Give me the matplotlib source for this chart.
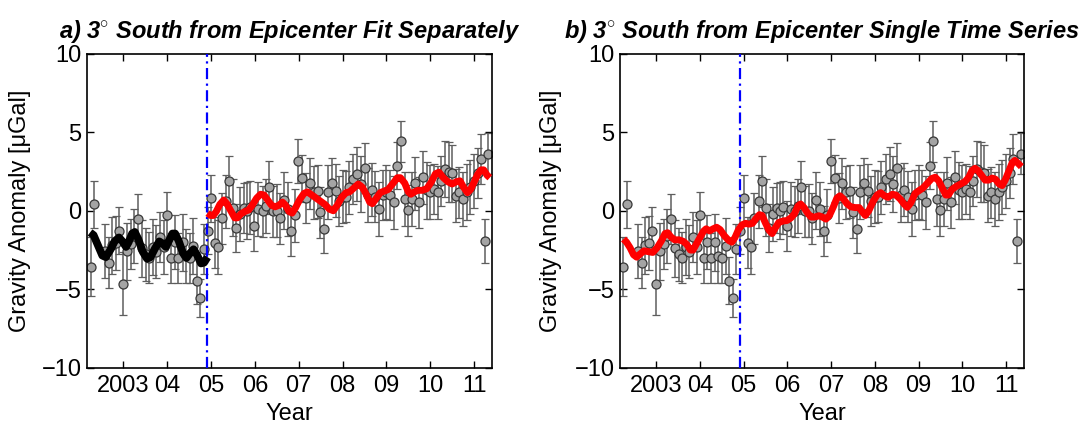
import numpy as np
import matplotlib.pyplot as plt

plt.rcParams['font.family'] = ['Liberation Sans', 'DejaVu Sans']
plt.rcParams['mathtext.fontset'] = 'custom'
plt.rcParams['mathtext.rm'] = 'Liberation Sans:bold:italic'

# monthly gravity anomalies (uGal)
years = [2002.25, 2002.33, 2002.58, 2002.67, 2002.75, 2002.84, 2002.91, 2003.00, 2003.08, 2003.17,
         2003.25, 2003.33, 2003.42, 2003.51, 2003.58, 2003.67, 2003.75, 2003.84, 2003.92, 2003.99,
         2004.08, 2004.17, 2004.25, 2004.35, 2004.42, 2004.51, 2004.59, 2004.67, 2004.75, 2004.83, 2004.92,
         2005.00, 2005.09, 2005.17, 2005.24, 2005.34, 2005.42, 2005.51, 2005.57, 2005.66, 2005.75, 2005.83,
         2005.90, 2005.99,
         2006.08, 2006.18, 2006.25, 2006.32, 2006.41, 2006.50, 2006.57, 2006.66, 2006.75, 2006.83, 2006.91,
         2006.99,
         2007.08, 2007.17, 2007.25, 2007.34, 2007.43, 2007.49, 2007.58, 2007.66, 2007.76, 2007.84, 2007.92,
         2008.00, 2008.08, 2008.15, 2008.25, 2008.34, 2008.42, 2008.51, 2008.59, 2008.67, 2008.75, 2008.84,
         2008.92,
         2009.00, 2009.08, 2009.17, 2009.25, 2009.33, 2009.42, 2009.50, 2009.58, 2009.66, 2009.75, 2009.84,
         2009.92,
         2010.00, 2010.08, 2010.17, 2010.25, 2010.33, 2010.42, 2010.50, 2010.58, 2010.66, 2010.75, 2010.83,
         2010.91,
         2011.00, 2011.08, 2011.16, 2011.24, 2011.33]
anom = [-3.55, 0.40, -2.55, -3.30, -2.20, -2.05, -1.28, -4.64, -2.58, -2.10,
        -1.60, -0.52, -2.40, -2.78, -2.98, -2.30, -2.60, -1.65, -2.30, -0.28,
        -3.00, -2.00, -3.00, -2.00, -2.87, -3.00, -2.23, -4.45, -5.55, -2.42, -1.28,
        0.79, -2.02, -2.32, -0.49, 0.60, 1.87, 0.19, -1.10, -0.21, 0.17, 0.00, 0.21, -0.96,
        0.11, -0.04, 0.30, 1.49, -0.04, 0.00, -0.49, 0.66, 0.10, -1.30, -0.30, 3.19,
        2.07, 0.83, 1.74, 1.17, 1.23, -0.11, -1.17, 1.20, 1.74, 1.28, 0.60,
        0.90, 0.90, 1.49, 2.00, 2.34, 1.70, 2.72, 1.00, 1.34, 0.90, 0.11, 1.00,
        1.20, 1.00, 0.53, 2.87, 4.42, 0.74, 0.02, 0.74, 1.74, 0.53, 2.13, 1.30,
        1.20, 1.40, 1.17, 1.90, 2.66, 2.45, 2.38, 0.96, 1.17, 0.74, 1.20, 1.50,
        1.90, 2.40, 3.30, -1.91, 3.62]
err = [1.9, 1.5, 1.7, 1.6, 1.8, 1.7, 1.5, 2.0, 1.8, 1.6, 1.7, 1.6, 1.8, 1.7, 1.6, 1.8, 1.7, 1.6, 1.7, 1.5,
       1.6, 1.7, 1.6, 1.8, 1.7, 1.6, 1.8, 1.5, 1.2, 1.6, 1.5,
       1.5, 1.6, 1.7, 1.6, 1.7, 1.6, 1.8, 1.5, 1.7, 1.6, 1.8, 1.7, 1.6,
       1.7, 1.6, 1.7, 1.7, 1.6, 1.7, 1.6, 1.8, 1.7, 1.6, 1.7, 1.4,
       1.5, 1.6, 1.6, 1.7, 1.7, 1.6, 1.5, 1.7, 1.6, 1.7, 1.6,
       1.7, 1.6, 1.7, 1.6, 1.7, 1.8, 1.6, 1.7, 1.7, 1.6, 1.7, 1.6,
       1.7, 1.6, 1.7, 1.5, 1.3, 1.7, 1.6, 1.7, 1.7, 1.6, 1.7, 1.8,
       1.7, 1.6, 1.7, 1.6, 1.8, 1.9, 1.8, 1.7, 1.6, 1.7, 1.8, 1.7,
       1.7, 1.6, 1.6, 1.4, 1.3]

# fitted models
pre_yr = [2002.24, 2002.32, 2002.42, 2002.52, 2002.60, 2002.70, 2002.80, 2002.90, 2002.98, 2003.06,
          2003.12, 2003.20, 2003.26, 2003.34, 2003.44, 2003.54, 2003.62, 2003.72, 2003.82, 2003.90,
          2003.97, 2004.05, 2004.12, 2004.18, 2004.26, 2004.36, 2004.44, 2004.52, 2004.60, 2004.68,
          2004.77, 2004.84, 2004.92]
pre_fit = [-1.38, -1.55, -2.20, -2.85, -2.95, -2.50, -1.95, -1.70, -1.95, -2.30,
           -2.00, -1.45, -1.35, -1.80, -2.60, -3.05, -2.95, -2.40, -1.95, -2.10,
           -2.30, -1.85, -1.45, -1.45, -1.90, -2.70, -3.00, -2.70, -2.45, -2.80,
           -3.35, -3.30, -2.95]

post_yr = [2004.92, 2004.99, 2005.05, 2005.12, 2005.20, 2005.29, 2005.36, 2005.45, 2005.54, 2005.60,
           2005.68, 2005.77, 2005.86, 2005.94, 2006.04, 2006.13, 2006.21, 2006.30, 2006.38, 2006.46,
           2006.55, 2006.63, 2006.70, 2006.78, 2006.85, 2006.93, 2007.02, 2007.12, 2007.20, 2007.30,
           2007.40, 2007.50, 2007.60, 2007.70, 2007.79, 2007.88, 2007.98, 2008.08, 2008.16, 2008.26,
           2008.36, 2008.45, 2008.54, 2008.62, 2008.68, 2008.76, 2008.86, 2008.95, 2009.04, 2009.14,
           2009.25, 2009.32, 2009.42, 2009.50, 2009.56, 2009.64, 2009.72, 2009.82, 2009.92, 2010.02,
           2010.12, 2010.20, 2010.30, 2010.40, 2010.50, 2010.60, 2010.68, 2010.76, 2010.85, 2010.92,
           2011.00, 2011.08, 2011.16, 2011.22, 2011.30, 2011.36]
post_fit = [-0.15, -0.30, -0.30, -0.05, 0.40, 0.68, 0.45, 0.00, -0.45, -0.45,
            -0.20, -0.05, 0.05, 0.35, 0.80, 1.05, 1.00, 0.65, 0.35, 0.25,
            0.35, 0.55, 0.35, -0.05, -0.15, 0.20, 0.70, 1.10, 1.20, 1.00,
            0.80, 0.60, 0.40, 0.10, 0.00, 0.35, 0.85, 1.15, 1.20, 1.45,
            1.70, 1.50, 1.05, 0.55, 0.45, 0.75, 1.15, 1.25, 1.35, 1.70,
            2.10, 2.10, 1.75, 1.20, 1.05, 1.20, 1.30, 1.30, 1.40, 1.80,
            2.35, 2.45, 2.10, 1.85, 1.70, 1.85, 1.90, 1.50, 1.15, 1.35,
            1.80, 2.30, 2.60, 2.60, 2.25, 2.10]

single_yr = [2002.25, 2002.32, 2002.40, 2002.48, 2002.55, 2002.63, 2002.72, 2002.82, 2002.92, 2003.02,
             2003.12, 2003.20, 2003.26, 2003.33, 2003.42, 2003.52, 2003.62, 2003.70, 2003.78, 2003.84,
             2003.92, 2004.00, 2004.08, 2004.14, 2004.22, 2004.30, 2004.38, 2004.46, 2004.56, 2004.66,
             2004.73, 2004.80, 2004.88, 2004.96, 2005.04, 2005.12, 2005.20, 2005.28, 2005.36, 2005.42,
             2005.50, 2005.58, 2005.65, 2005.72, 2005.80, 2005.90, 2005.99, 2006.08, 2006.16, 2006.24,
             2006.30, 2006.38, 2006.46, 2006.54, 2006.62, 2006.72, 2006.80, 2006.88, 2006.96, 2007.05,
             2007.13, 2007.20, 2007.28, 2007.36, 2007.45, 2007.55, 2007.64, 2007.72, 2007.78, 2007.86,
             2007.96, 2008.05, 2008.13, 2008.22, 2008.30, 2008.40, 2008.48, 2008.58, 2008.66, 2008.74,
             2008.82, 2008.92, 2009.02, 2009.10, 2009.20, 2009.30, 2009.38, 2009.46, 2009.54, 2009.62,
             2009.68, 2009.76, 2009.86, 2009.96, 2010.06, 2010.14, 2010.22, 2010.29, 2010.36, 2010.44,
             2010.52, 2010.60, 2010.68, 2010.76, 2010.84, 2010.91, 2010.98, 2011.06, 2011.14, 2011.20,
             2011.28, 2011.35]
single_fit = [-1.80, -2.00, -2.35, -2.80, -2.95, -2.75, -2.55, -2.60, -2.65, -2.35,
              -1.90, -1.45, -1.40, -1.65, -1.85, -1.85, -1.95, -2.15, -2.50, -2.50,
              -2.10, -1.70, -1.30, -1.15, -1.28, -1.15, -1.05, -1.20, -1.60, -1.90,
              -2.00, -1.70, -1.20, -0.90, -0.80, -0.85, -0.80, -0.50, -0.25, -0.30,
              -0.80, -1.25, -1.45, -1.10, -0.75, -0.65, -0.62, -0.45, -0.20, 0.30,
              0.43, 0.20, -0.15, -0.40, -0.40, -0.32, -0.40, -0.53, -0.30, 0.25,
              0.80, 0.95, 0.75, 0.45, 0.25, 0.20, 0.20, -0.10, -0.30, 0.00,
              0.60, 1.00, 1.15, 0.95, 0.85, 1.05, 1.00, 0.74, 0.45, 0.22,
              0.50, 1.10, 1.30, 1.45, 1.75, 2.05, 2.13, 1.90, 1.45, 1.00,
              1.00, 1.35, 1.55, 1.70, 1.85, 2.10, 2.55, 2.70, 2.55, 2.25,
              1.95, 1.95, 2.08, 2.00, 1.70, 1.60, 1.95, 2.50, 3.05, 3.20,
              3.00, 2.80]

quake = 2004.91
tick_years = [2003, 2004, 2005, 2006, 2007, 2008, 2009, 2010, 2011]
tick_labels = ['2003', '04', '05', '06', '07', '08', '09', '10', '11']
titles = ['a) 3$^{\\circ}$ South from Epicenter Fit Separately',
          'b) 3$^{\\circ}$ South from Epicenter Single Time Series']

W, H = 1091, 425
fig = plt.figure(figsize=(W / 100, H / 100), dpi=100)
ax1 = fig.add_axes([87 / W, (H - 368) / H, 405 / W, 314.5 / H])
ax2 = fig.add_axes([620 / W, (H - 368) / H, 404 / W, 314.5 / H])


def draw_base(ax, title):
    ax.errorbar(years, anom, yerr=err, fmt='o', ms=6.5, mfc='#a4a4a4', mec='#383838', mew=0.9,
                ecolor='#5e5e5e', elinewidth=1.1, capsize=3, capthick=1.1, zorder=2)
    ax.axvline(quake, color='#0000ff', lw=1.6, ls=(0, (5, 2, 1, 2)), zorder=3)
    ax.set_xlim(2002.17, 2011.41)
    ax.set_ylim(-10, 10)
    ax.set_yticks([-10, -5, 0, 5, 10])
    ax.set_xticks(tick_years)
    ax.set_xticklabels(tick_labels)
    ax.tick_params(direction='in', length=5, width=1, top=True, right=True,
                   labelsize=17, pad=5)
    ax.tick_params(axis='y', pad=4)
    for s in ax.spines.values():
        s.set_linewidth(1.2)
    ax.set_xlabel('Year', fontsize=17)
    ax.set_ylabel('Gravity Anomaly [\u03bcGal]', fontsize=17)
    ax.text(0.5, 1.05, title, transform=ax.transAxes, ha='center', va='baseline',
            fontsize=17, fontweight='bold', fontstyle='italic')


draw_base(ax1, titles[0])
ax1.plot(pre_yr, pre_fit, color='black', lw=5.6, solid_joinstyle='round', solid_capstyle='butt', zorder=4)
ax1.plot(post_yr, post_fit, color='#ff0000', lw=5.0, solid_joinstyle='round', solid_capstyle='butt', zorder=4)
ax1.yaxis.set_label_coords(-0.138, 0.5)
ax1.xaxis.set_label_coords(0.5, -0.11)

draw_base(ax2, titles[1])
ax2.plot(single_yr, single_fit, color='#ff0000', lw=5.0, solid_joinstyle='round', solid_capstyle='butt', zorder=4)
ax2.yaxis.set_label_coords(-0.143, 0.5)
ax2.xaxis.set_label_coords(0.5, -0.11)

fig.savefig('out.png', dpi=100)
